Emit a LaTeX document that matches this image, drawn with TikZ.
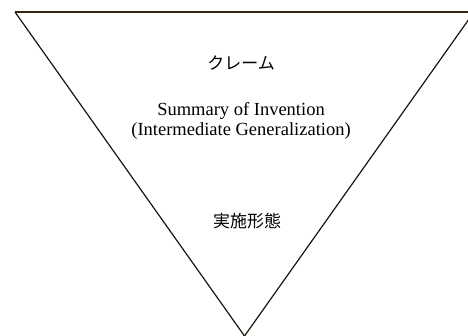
\documentclass[tikz,border=0pt]{standalone}
\usepackage{fontspec}
\setmainfont{Liberation Serif}
\newfontfamily\jpfont{Noto Sans CJK JP}
\begin{document}
\begin{tikzpicture}[x=1pt,y=-1pt,
  edge/.style={line width=1.2pt,draw=black!85!brown},
  topedge/.style={line width=1.8pt,draw=black!70!brown},
  jp/.style={font=\jpfont\fontsize{17}{20}\selectfont,text=black},
  en/.style={font=\fontsize{18.5}{20.5}\selectfont,align=center,text=black}]
\useasboundingbox (0,0) rectangle (468,335);
\clip (0,0) rectangle (468,335);
\coordinate (tl) at (15,12);
\coordinate (tr) at (474,12);
\coordinate (ap) at (244.5,336);
\draw[edge] (tl) -- (ap) -- (tr);
\draw[topedge] (tl) -- (tr);
\node[jp] (claim) at (241,63) {クレーム};
\node[en] (summary) at (241,121) {Summary of Invention\\(Intermediate Generalization)};
\node[jp] (emb) at (247,221) {実施形態};
\end{tikzpicture}
\end{document}
